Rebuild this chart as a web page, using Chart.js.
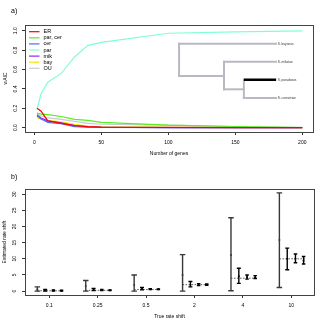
<!DOCTYPE html>
<html>
<head>
<meta charset="utf-8">
<script src="https://cdn.jsdelivr.net/npm/chart.js@4.4.0/dist/chart.umd.min.js"></script>
<style>
  body { margin: 0; background: #fff; }
  canvas { position: absolute; left: 0; }
  #chart-a { top: 0; }
  #chart-b { top: 160px; }
</style>
</head>
<body>
<canvas id="chart-a" width="327" height="160"></canvas>
<canvas id="chart-b" width="327" height="167"></canvas>
<script>
// ===== DATOS PANEL A =====
const genes = [2, 5, 10, 20, 30, 40, 50, 100, 150, 200];
const erVals     = [0.20, 0.17, 0.07, 0.045, 0.02, 0.01, 0.006, 0.002, 0.001, 0.0];
const parCerVals = [0.15, 0.14, 0.135, 0.115, 0.085, 0.075, 0.055, 0.025, 0.012, 0.0];
const cerVals    = [0.12, 0.09, 0.055, 0.04, 0.01, 0.004, 0.002, 0.0, 0.0, 0.0];
const parVals    = [0.19, 0.35, 0.47, 0.56, 0.73, 0.85, 0.88, 0.975, 0.99, 1.0];
const mikVals    = [0.13, 0.10, 0.07, 0.05, 0.02, 0.008, 0.004, 0.001, 0.0, 0.0];
const bayVals    = [0.10, 0.09, 0.075, 0.06, 0.035, 0.015, 0.008, 0.003, 0.002, 0.001];
const ouVals     = [0.14, 0.12, 0.10, 0.085, 0.065, 0.045, 0.035, 0.025, 0.012, 0.002];
const modelNames = ['ER', 'par, cer', 'cer', 'par', 'mik', 'bay', 'OU'];
const geneTicks = [0, 50, 100, 150, 200];
const waicTicks = [0, 0.2, 0.4, 0.6, 0.8, 1.0];
const treeTips = ['S. bayanus', 'S. mikatae', 'S. paradoxus', 'S. cerevisiae'];

// ===== DATOS PANEL B =====
const rateLabels = ['0.1', '0.25', '0.5', '2', '4', '10'];
const trueShift = [0.1, 0.25, 0.5, 2, 4, 10];
const est1Mid = [0.5, 1.6, 1.9, 5.0, 11.2, 15.8];
const est1Lo  = [0.0, 0.0, 0.0, 0.0, 0.1, 1.1];
const est1Hi  = [1.3, 3.3, 5.0, 11.3, 22.7, 30.4];
const est2Mid = [0.3, 0.45, 0.75, 2.0, 4.6, 10.0];
const est2Lo  = [0.05, 0.15, 0.4, 1.3, 2.4, 6.6];
const est2Hi  = [0.55, 0.8, 1.1, 3.0, 7.1, 13.3];
const est3Mid = [0.2, 0.35, 0.6, 2.0, 4.4, 10.0];
const est3Lo  = [0.05, 0.2, 0.45, 1.7, 3.7, 8.8];
const est3Hi  = [0.35, 0.5, 0.75, 2.3, 5.0, 11.5];
const est4Mid = [0.15, 0.3, 0.55, 2.0, 4.3, 9.4];
const est4Lo  = [0.05, 0.2, 0.45, 1.8, 3.9, 8.4];
const est4Hi  = [0.25, 0.4, 0.65, 2.2, 4.8, 10.7];
const rateTicks = [0, 5, 10, 15, 20, 25, 30];

const FONT = "'Liberation Sans', Arial, sans-serif";
const colors = ['#ff0000', '#55ee22', '#4a6cff', '#7fffd4', '#a020f0', '#f2e600', '#c2cfcf'];

// ===== PLUGINS =====
const boxPlugin = {
    id: 'box',
    afterDraw(chart, args, opts) {
        const { ctx, chartArea: a } = chart;
        ctx.save();
        ctx.strokeStyle = '#444';
        ctx.lineWidth = 1;
        ctx.strokeRect(a.left + 0.5, a.top + 0.5, a.right - a.left, a.bottom - a.top);
        ctx.fillStyle = '#000';
        ctx.font = '7px ' + FONT;
        ctx.textBaseline = 'middle';
        ctx.fillText(opts.tag, 11, opts.tagY);
        ctx.restore();
    }
};

const legendTreePlugin = {
    id: 'legendTree',
    afterDatasetsDraw(chart) {
        const { ctx, chartArea: a } = chart;
        ctx.save();
        // leyenda
        ctx.font = '5.5px ' + FONT;
        ctx.textBaseline = 'middle';
        chart.data.datasets.forEach((ds, i) => {
            const y = 31.7 + i * 6.1;
            ctx.strokeStyle = ds.borderColor;
            ctx.lineWidth = 1.2;
            ctx.beginPath();
            ctx.moveTo(29, y);
            ctx.lineTo(39.5, y);
            ctx.stroke();
            ctx.fillStyle = '#000';
            ctx.fillText(ds.label, 43.5, y);
        });
        // arbol
        const w = a.right - a.left, h = a.bottom - a.top;
        const X = f => a.left + f * w, Y = f => a.top + f * h;
        const rootX = 0.535, n1X = 0.691, n2X = 0.760, tipX = 0.872;
        const tipY = [0.175, 0.343, 0.511, 0.682];
        const n1Y = 0.477, n2Y = 0.601;
        ctx.strokeStyle = '#b9b9c1';
        ctx.lineWidth = 2;
        ctx.lineCap = 'square';
        const seg = (x1, y1, x2, y2) => {
            ctx.beginPath();
            ctx.moveTo(X(x1), Y(y1));
            ctx.lineTo(X(x2), Y(y2));
            ctx.stroke();
        };
        seg(rootX, tipY[0], rootX, n1Y);
        seg(rootX, tipY[0], tipX, tipY[0]);
        seg(rootX, n1Y, n1X, n1Y);
        seg(n1X, tipY[1], n1X, n2Y);
        seg(n1X, tipY[1], tipX, tipY[1]);
        seg(n1X, n2Y, n2X, n2Y);
        seg(n2X, tipY[2], n2X, tipY[3]);
        seg(n2X, tipY[3], tipX, tipY[3]);
        ctx.strokeStyle = '#000';
        ctx.lineWidth = 2.6;
        ctx.lineCap = 'butt';
        seg(n2X, tipY[2], tipX, tipY[2]);
        ctx.fillStyle = '#333';
        ctx.font = '3.2px ' + FONT;
        treeTips.forEach((t, i) => ctx.fillText(t, X(tipX) + 1.5, Y(tipY[i])));
        ctx.restore();
    }
};

const errorBarPlugin = {
    id: 'errorBars',
    afterDatasetsDraw(chart) {
        const { ctx } = chart;
        const xs = chart.scales.x, ys = chart.scales.y;
        const sets = chart.data.datasets;
        ctx.save();
        // linea del valor verdadero
        ctx.strokeStyle = '#444';
        ctx.lineWidth = 0.9;
        ctx.setLineDash([1.5, 1.5]);
        trueShift.forEach((v, i) => {
            const x1 = xs.getPixelForValue(sets[0].data[i].x);
            const x2 = xs.getPixelForValue(sets[sets.length - 1].data[i].x) + 2;
            const y = ys.getPixelForValue(v);
            ctx.beginPath();
            ctx.moveTo(x1, y);
            ctx.lineTo(x2, y);
            ctx.stroke();
        });
        ctx.setLineDash([]);
        sets.forEach(ds => {
            ctx.strokeStyle = ds.borderColor;
            ctx.lineWidth = 1.4;
            ds.data.forEach((p, i) => {
                const x = xs.getPixelForValue(p.x);
                const yl = ys.getPixelForValue(ds.lo[i]);
                const yh = ys.getPixelForValue(ds.hi[i]);
                const c = ds.cap / 2;
                ctx.beginPath();
                ctx.moveTo(x, yl); ctx.lineTo(x, yh);
                ctx.moveTo(x - c, yl); ctx.lineTo(x + c, yl);
                ctx.moveTo(x - c, yh); ctx.lineTo(x + c, yh);
                ctx.stroke();
            });
        });
        ctx.restore();
    }
};

// ===== PANEL A =====
const seriesA = [erVals, parCerVals, cerVals, parVals, mikVals, bayVals, ouVals];
new Chart(document.getElementById('chart-a'), {
    type: 'scatter',
    data: {
        datasets: seriesA.map((vals, i) => ({
            label: modelNames[i],
            data: genes.map((g, j) => ({ x: g, y: vals[j] })),
            showLine: true,
            borderColor: colors[i],
            backgroundColor: colors[i],
            borderWidth: 1.2,
            pointRadius: 0,
            tension: 0
        }))
    },
    options: {
        responsive: false,
        animation: false,
        layout: { padding: { top: 25, right: 14, left: 0, bottom: 0 } },
        plugins: {
            legend: { display: false },
            tooltip: { enabled: false },
            box: { tag: 'a)', tagY: 11 }
        },
        scales: {
            x: {
                type: 'linear', min: -7, max: 208,
                afterBuildTicks: s => { s.ticks = geneTicks.map(v => ({ value: v })); },
                afterFit: s => { s.height = 28; },
                grid: { drawOnChartArea: false, drawTicks: true, tickLength: 3, tickColor: '#333' },
                border: { display: false },
                ticks: { font: { size: 5, family: FONT }, color: '#000', padding: 4.3, maxRotation: 0 },
                title: { display: true, text: 'Number of genes', font: { size: 5, family: FONT }, color: '#000', padding: { top: 0, bottom: 3.7 } }
            },
            y: {
                min: -0.045, max: 1.06,
                afterBuildTicks: s => { s.ticks = waicTicks.map(v => ({ value: v })); },
                afterFit: s => { s.width = 25; },
                grid: { drawOnChartArea: false, drawTicks: true, tickLength: 3, tickColor: '#333' },
                border: { display: false },
                ticks: {
                    font: { size: 5, family: FONT }, color: '#000', padding: 2.8,
                    minRotation: 90, maxRotation: 90, crossAlign: 'center',
                    callback: v => v.toFixed(1)
                },
                title: { display: true, text: 'wAIC', font: { size: 5, family: FONT }, color: '#000', padding: { top: 2.5, bottom: 0 } }
            }
        }
    },
    plugins: [boxPlugin, legendTreePlugin]
});

// ===== PANEL B =====
const offsets = [-0.245, -0.083, 0.087, 0.255];
const estSets = [
    { mid: est1Mid, lo: est1Lo, hi: est1Hi, color: '#383838', cap: 5.5 },
    { mid: est2Mid, lo: est2Lo, hi: est2Hi, color: '#000', cap: 4 },
    { mid: est3Mid, lo: est3Lo, hi: est3Hi, color: '#000', cap: 3.5 },
    { mid: est4Mid, lo: est4Lo, hi: est4Hi, color: '#000', cap: 3.5 }
];
new Chart(document.getElementById('chart-b'), {
    type: 'scatter',
    data: {
        datasets: estSets.map((e, k) => ({
            data: e.mid.map((m, i) => ({ x: i + 1 + offsets[k], y: m })),
            lo: e.lo, hi: e.hi, cap: e.cap,
            borderColor: e.color,
            backgroundColor: e.color,
            pointRadius: 1,
            pointBorderWidth: 0
        }))
    },
    options: {
        responsive: false,
        animation: false,
        layout: { padding: { top: 29, right: 13, left: 0, bottom: 0 } },
        plugins: {
            legend: { display: false },
            tooltip: { enabled: false },
            box: { tag: 'b)', tagY: 17 }
        },
        scales: {
            x: {
                type: 'linear', min: 0.5, max: 6.47,
                afterBuildTicks: s => { s.ticks = rateLabels.map((l, i) => ({ value: i + 1 })); },
                afterFit: s => { s.height = 32; },
                grid: { drawOnChartArea: false, drawTicks: true, tickLength: 3, tickColor: '#333' },
                border: { display: false },
                ticks: {
                    font: { size: 5, family: FONT }, color: '#000', padding: 5, maxRotation: 0,
                    callback: v => rateLabels[Math.round(v) - 1]
                },
                title: { display: true, text: 'True rate shift', font: { size: 5, family: FONT }, color: '#000', padding: { top: 0, bottom: 7.3 } }
            },
            y: {
                min: -1.2, max: 31.6,
                afterBuildTicks: s => { s.ticks = rateTicks.map(v => ({ value: v })); },
                afterFit: s => { s.width = 25; },
                grid: { drawOnChartArea: false, drawTicks: true, tickLength: 3, tickColor: '#333' },
                border: { display: false },
                ticks: {
                    font: { size: 5, family: FONT }, color: '#000', padding: 4.2,
                    minRotation: 90, maxRotation: 90, crossAlign: 'center'
                },
                title: { display: true, text: 'Estimated rate shift', font: { size: 5, family: FONT }, color: '#000', padding: { top: 2, bottom: 0 } }
            }
        }
    },
    plugins: [boxPlugin, errorBarPlugin]
});
</script>
</body>
</html>
